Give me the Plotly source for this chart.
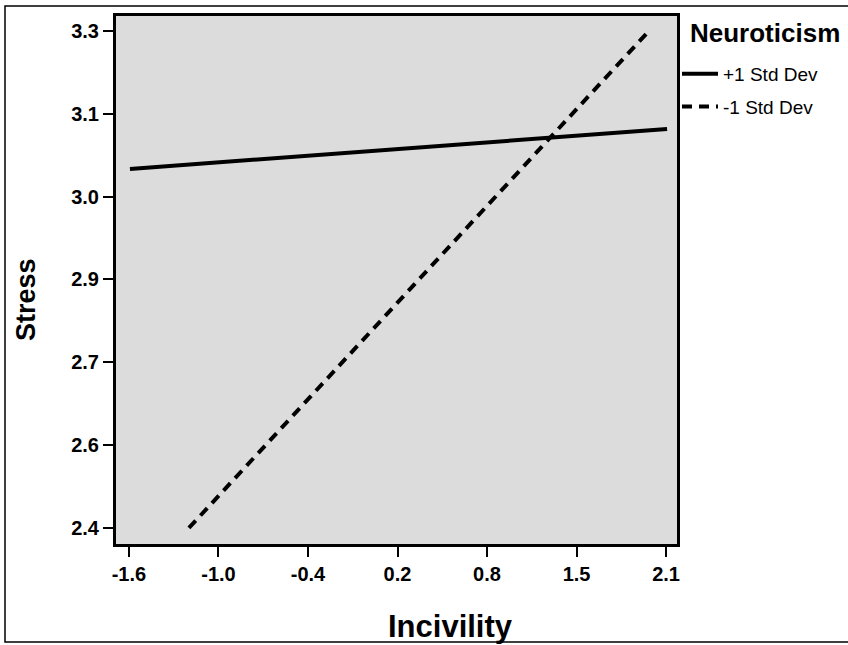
import plotly.graph_objects as go

# Data
series_names = ["+1 Std Dev", "-1 Std Dev"]
legend_title = "Neuroticism"
x_title = "Incivility"
y_title = "Stress"
high_x = [-1.643, 2.092]
high_y = [3.050, 3.1225]
low_x = [-1.233, 1.952]
low_y = [2.400, 3.296]

x_tickvals = [-1.65, -1.0275, -0.405, 0.2175, 0.84, 1.4625, 2.085]
x_ticktext = ["-1.6", "-1.0", "-0.4", "0.2", "0.8", "1.5", "2.1"]
y_tickvals = [2.40, 2.55, 2.70, 2.85, 3.00, 3.15, 3.30]
y_ticktext = ["2.4", "2.6", "2.7", "2.9", "3.0", "3.1", "3.3"]

FAM = "Liberation Sans, Arial, sans-serif"
PW, PH, ML, MT = 561, 528, 116, 16


def px(x):
    return (x - ML) / PW


def py(y):
    return (MT + PH - y) / PH


fig = go.Figure()
fig.add_trace(go.Scatter(x=high_x, y=high_y, mode="lines", name=series_names[0],
                         legendgroup="a",
                         line=dict(color="black", width=4)))
fig.add_trace(go.Scatter(x=low_x, y=low_y, mode="lines", name=series_names[1],
                         legendgroup="b",
                         line=dict(color="black", width=4, dash="10px,7px")))

tick_font = dict(family=FAM, size=20, color="black", weight="bold")
fig.update_layout(
    width=848, height=645,
    margin=dict(l=ML, r=848 - ML - PW, t=MT, b=645 - MT - PH),
    paper_bgcolor="white",
    plot_bgcolor="#dcdcdc",
    font=dict(family=FAM, color="black"),
    showlegend=True,
    legend=dict(
        x=1.0, xanchor="left", y=py(55), yanchor="top",
        font=dict(size=19, family=FAM, color="black"),
        bgcolor="rgba(0,0,0,0)", tracegroupgap=5, itemwidth=36,
    ),
    xaxis=dict(
        range=[-1.740, 2.161], tickmode="array", tickvals=x_tickvals, ticktext=x_ticktext,
        ticks="outside", ticklen=10, tickwidth=2, tickcolor="black",
        showline=True, linecolor="black", linewidth=3, mirror=True,
        showgrid=False, zeroline=False,
        tickfont=tick_font,
    ),
    yaxis=dict(
        range=[2.371, 3.327], tickmode="array", tickvals=y_tickvals, ticktext=y_ticktext,
        ticks="outside", ticklen=10, tickwidth=2, tickcolor="black",
        showline=True, linecolor="black", linewidth=3, mirror=True,
        showgrid=False, zeroline=False,
        tickfont=tick_font,
    ),
    annotations=[
        dict(text=legend_title, xref="paper", yref="paper",
             x=px(688), y=py(33), xanchor="left", yanchor="middle",
             showarrow=False, font=dict(size=26, family=FAM, weight="bold", color="black")),
        dict(text=x_title, xref="paper", yref="paper",
             x=px(450), y=py(626), xanchor="center", yanchor="middle",
             showarrow=False, font=dict(size=31, family=FAM, weight="bold", color="black")),
        dict(text=y_title, xref="paper", yref="paper", textangle=-90,
             x=px(26), y=py(300), xanchor="center", yanchor="middle",
             showarrow=False, font=dict(size=27, family=FAM, weight="bold", color="black")),
    ],
)

# outer frame of the figure
fig.add_shape(type="rect", xref="paper", yref="paper",
              x0=px(5), x1=px(858), y0=py(642), y1=py(6),
              line=dict(color="black", width=1.5), fillcolor="rgba(0,0,0,0)", layer="below")

fig.write_html("out.html")
